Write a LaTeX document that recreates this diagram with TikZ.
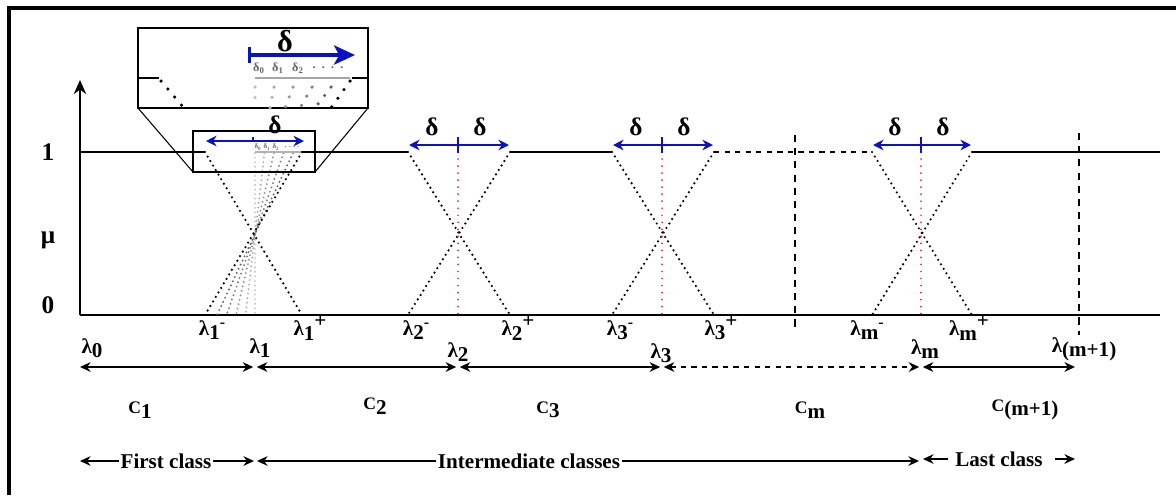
\documentclass[tikz,border=0pt]{standalone}
\usepackage{fontspec}
\setmainfont{Liberation Serif}
\usepackage{xcolor}
\usetikzlibrary{positioning, arrows.meta, calc}
\definecolor{deltablue}{HTML}{0B12C4}
\definecolor{splitred}{HTML}{E02A22}

\begin{document}
\begin{tikzpicture}[
    x=0.02cm, y=-0.02cm,
    font=\bfseries,
    frame/.style={line width=1.8pt},
    axis/.style={line width=1.3pt},
    level/.style={line width=0.9pt},
    memb/.style={line width=1.4pt, line cap=round, dash pattern=on 0pt off 3pt},
    fan/.style={draw=#1, line width=1.2pt, line cap=round, dash pattern=on 0pt off 2.6pt},
    split/.style={draw=splitred, line width=1.1pt, line cap=round, dash pattern=on 0pt off 4pt},
    bound/.style={line width=1pt, dash pattern=on 4pt off 3.5pt},
    spread/.style={draw=deltablue, line width=1.3pt, -{Stealth[length=6pt,width=6pt]}},
    tick/.style={draw=deltablue, line width=1.3pt},
    span/.style={line width=1.1pt, {Stealth[length=6pt,width=5.5pt]}-{Stealth[length=6pt,width=5.5pt]}},
    pointer/.style={line width=0.9pt, -{Stealth[length=6pt,width=5.5pt]}},
    lam/.style={font=\bfseries\large, inner sep=1pt},
    cls/.style={font=\bfseries\large, inner sep=1pt},
    dlt/.style={font=\bfseries\Large, inner sep=0pt},
    tinyd/.style={font=\bfseries\fontsize{4}{4}\selectfont, text=black!60, inner sep=0pt},
  ]
  \useasboundingbox (0,0) rectangle (1176,495);
  % frame
  \draw[frame] (9,495) -- (9,8) -- (1176,8);

  % axes
  \coordinate (o) at (80,315);
  \draw[axis, -{Stealth[length=8pt,width=7pt]}] (o) -- (80,80);
  \draw[axis] (o) -- (1160,315);
  \node[font=\bfseries\Large] (one) at (48,152) {1};
  \node[font=\bfseries\Large] (mu) at (48,240) {μ};
  \node[font=\bfseries\Large] (zero) at (48,305) {0};

  % membership level 1
  \draw[level] (80,152) -- (205,152);
  \draw[level] (302,152) -- (408,152);
  \draw[level] (510,152) -- (612,152);
  \draw[level, dashed] (714,152) -- (872,152);
  \draw[level] (972,152) -- (1160,152);

  % fan of shifted thresholds around lambda1
  \foreach \k/\g in {0/22,1/32,2/42,3/52,4/62}
    \draw[fan=black!\g] (255+\k*9.5,153) -- (255-\k*9.5,315);
  \draw[draw=black!30, line width=1pt] (255,152) -- (302,152);

  % crossings
  \draw[memb] (205,152) -- (302,315);
  \draw[memb] (302,152) -- (205,315);
  \draw[memb] (408,152) -- (510,315);
  \draw[memb] (510,152) -- (408,315);
  \draw[memb] (612,152) -- (714,315);
  \draw[memb] (714,152) -- (612,315);
  \draw[memb] (872,152) -- (972,315);
  \draw[memb] (972,152) -- (872,315);
  \draw[split] (458,152) -- (458,315);
  \draw[split] (662,152) -- (662,315);
  \draw[split] (921,152) -- (921,315);

  % class boundaries
  \draw[bound] (795,135) -- (795,332);
  \draw[bound] (1079,133) -- (1079,335);

  % delta spreads
  \draw[spread] (458,145) -- (409,145);
  \draw[spread] (458,145) -- (509,145);
  \draw[tick] (458,137) -- (458,153);
  \node[dlt] (d2l) at (432,127) {δ};
  \node[dlt] (d2r) at (480,127) {δ};
  \draw[spread] (662,145) -- (613,145);
  \draw[spread] (662,145) -- (713,145);
  \draw[tick] (662,137) -- (662,153);
  \node[dlt] (d3l) at (636,127) {δ};
  \node[dlt] (d3r) at (684,127) {δ};
  \draw[spread] (921,145) -- (873,145);
  \draw[spread] (921,145) -- (971,145);
  \draw[tick] (921,137) -- (921,153);
  \node[dlt] (dml) at (895,127) {δ};
  \node[dlt] (dmr) at (943,127) {δ};

  % zoom window around lambda1
  \draw[line width=0.8pt] (193,131) rectangle (315,172);
  \draw[line width=0.8pt, fill=white] (138,28) rectangle (368,108);
  \draw[line width=0.6pt] (138,108) -- (193,172);
  \draw[line width=0.6pt] (368,108) -- (315,172);
  \draw[spread, <->, >={Stealth[length=6pt,width=6pt]}] (206,141) -- (304,141);
  \draw[tick, line width=1pt] (253,137) -- (253,141);
  \node[font=\bfseries\Large, inner sep=0pt] (d1) at (275,125) {δ};
  \node[tinyd] (s0) at (258,147) {δ\textsubscript{0}};
  \node[tinyd] (s1) at (267,147) {δ\textsubscript{1}};
  \node[tinyd] (s2) at (276,147) {δ\textsubscript{2}};
  \node[tinyd] (s3) at (292,147) {. . . .};

  % magnified view
  \draw[line width=1.6pt] (138,78) -- (159,78);
  \draw[line width=1.6pt] (352,78) -- (368,78);
  \draw[draw=black!35, line width=1.4pt] (255,78) -- (350,78);
  \draw[memb, line width=2pt, dash pattern=on 0pt off 6pt] (161,81) -- (184,108);
  \draw[memb, line width=2pt, dash pattern=on 0pt off 6pt] (350,81) -- (331,108);
  \foreach \k/\g in {0/25,1/32,2/40,3/50,4/62}
    \draw[fan=black!\g, line width=2pt, dash pattern=on 0pt off 6pt] (255+\k*19,87) -- (255+\k*19-\k*4,108);
  \draw[draw=deltablue, line width=1.8pt, {Bar[width=9pt]}-{Stealth[length=12pt,width=11pt,inset=3pt]}] (248,55) -- (355,55);
  \node[font=\bfseries\LARGE, inner sep=0pt] (dbig) at (285,41) {δ};
  \node[tinyd, font=\bfseries\scriptsize] (b0) at (259,68) {δ\textsubscript{0}};
  \node[tinyd, font=\bfseries\scriptsize] (b1) at (278,68) {δ\textsubscript{1}};
  \node[tinyd, font=\bfseries\scriptsize] (b2) at (298,68) {δ\textsubscript{2}};
  \node[tinyd, font=\bfseries\scriptsize] (b3) at (328,68) {.\ \ .\ \ .\ \ .};

  % threshold labels
  \node[lam] (l1m) at (212,330) {λ\raisebox{-.45ex}{1}\raisebox{.8ex}{\small -}};
  \node[lam] (l1p) at (310,328) {λ\raisebox{-.45ex}{1}\raisebox{.8ex}{+}};
  \node[lam] (l2m) at (416,330) {λ\raisebox{-.45ex}{2}\raisebox{.8ex}{\small -}};
  \node[lam] (l2p) at (518,328) {λ\raisebox{-.45ex}{2}\raisebox{.8ex}{+}};
  \node[lam] (l3m) at (620,330) {λ\raisebox{-.45ex}{3}\raisebox{.8ex}{\small -}};
  \node[lam] (l3p) at (721,328) {λ\raisebox{-.45ex}{3}\raisebox{.8ex}{+}};
  \node[lam] (lmm) at (867,330) {λ\raisebox{-.45ex}{m}\raisebox{.8ex}{\small -}};
  \node[lam] (lmp) at (969,328) {λ\raisebox{-.45ex}{m}\raisebox{.8ex}{+}};
  \node[lam] (l0) at (92,348) {λ\raisebox{-.45ex}{0}};
  \node[lam] (l1) at (260,348) {λ\raisebox{-.45ex}{1}};
  \node[lam] (l2) at (458,352) {λ\raisebox{-.45ex}{2}};
  \node[lam] (l3) at (661,353) {λ\raisebox{-.45ex}{3}};
  \node[lam] (lm) at (925,349) {λ\raisebox{-.45ex}{m}};
  \node[lam] (lm1) at (1084,349) {λ\raisebox{-.45ex}{(m+1)}};

  % class intervals
  \coordinate (p0) at (80,367);
  \coordinate (p1) at (255,367);
  \coordinate (p2) at (458,367);
  \coordinate (p3) at (662,367);
  \coordinate (pm) at (921,367);
  \coordinate (pm1) at (1075,367);
  \draw[span] (p0) -- ([xshift=-1pt]p1);
  \draw[span] ([xshift=1pt]p1) -- ([xshift=-1pt]p2);
  \draw[span] ([xshift=1pt]p2) -- ([xshift=-1pt]p3);
  \draw[span, dashed] ([xshift=1pt]p3) -- ([xshift=-1pt]pm);
  \draw[span] ([xshift=1pt]pm) -- (pm1);
  \node[cls] (c1) at (140,410) {{\normalsize C}\raisebox{-.45ex}{1}};
  \node[cls] (c2) at (375,406) {{\normalsize C}\raisebox{-.45ex}{2}};
  \node[cls] (c3) at (548,410) {{\normalsize C}\raisebox{-.45ex}{3}};
  \node[cls] (cm) at (810,410) {{\normalsize C}\raisebox{-.45ex}{m}};
  \node[cls] (cm1) at (1025,410) {{\normalsize C}\raisebox{-.45ex}{(m+1)}};

  % class groups
  \coordinate (q0) at (80,461);
  \coordinate (q1) at (254,461);
  \coordinate (q2) at (257,461);
  \coordinate (qm) at (919,461);
  \coordinate (qm2) at (923,459);
  \coordinate (qe) at (1075,459);
  \node[inner sep=1pt, font=\bfseries\large] (first) at (166,461) {First class};
  \draw[pointer] (first) -- (q0);
  \draw[pointer] (first) -- (q1);
  \node[inner sep=1pt, font=\bfseries\large] (inter) at (529,461) {Intermediate classes};
  \draw[pointer] (inter) -- (q2);
  \draw[pointer] (inter) -- (qm);
  \node[inner sep=4pt, font=\bfseries\large] (last) at (999,459) {Last class};
  \draw[pointer] (last) -- (qm2);
  \draw[pointer] ([xshift=3pt]last.east) -- (qe);
\end{tikzpicture}
\end{document}
